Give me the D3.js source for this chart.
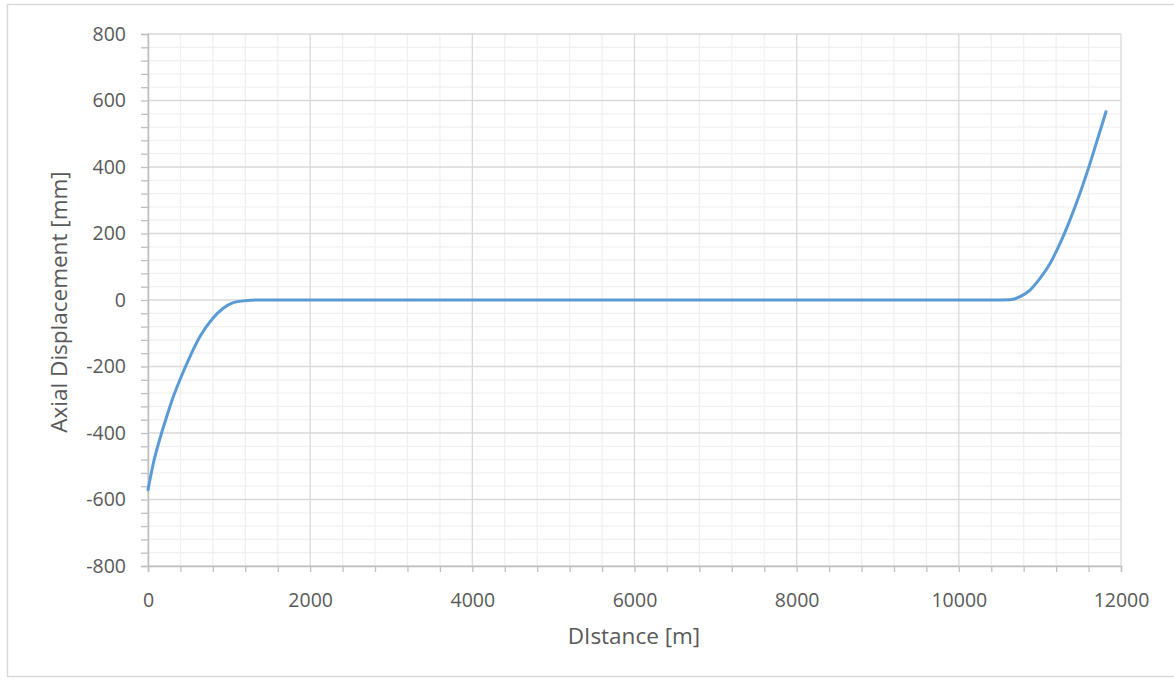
<!DOCTYPE html>
<html><head><meta charset="utf-8">
<script src="https://cdn.jsdelivr.net/npm/d3@7"></script>
<style>body{margin:0;background:#fff;}svg{display:block;font-family:"Open Sans",Lato,sans-serif;}</style>
</head><body>
<svg id="c" width="1174" height="681"></svg>
<script>
const distance = [0,66,148,230,312,400,518,641,800,928,1051,1200,1350,2000,4000,6000,8000,10000,10385,10632,10755,10878,11001,11125,11248,11371,11494,11618,11720,11815];
const displacement = [-571,-491,-416,-351,-291,-236,-170,-110,-55,-25,-8,-2,0,0,0,0,0,0,0,1,10,30,65,110,170,241,321,411,491,566];
const xTicks = [0,2000,4000,6000,8000,10000,12000];
const yTicks = [-800,-600,-400,-200,0,200,400,600,800];

const svg = d3.select("#c");
const m = {l:148, r:1121, t:34, b:566};
const x = d3.scaleLinear().domain([0,12000]).range([m.l,m.r]);
const y = d3.scaleLinear().domain([-800,800]).range([m.b,m.t]);

svg.append("rect").attr("x",7.5).attr("y",4.5).attr("width",1170).attr("height",672)
  .attr("fill","#fff").attr("stroke","#d9d9d9").attr("stroke-width",1.5);

const g = svg.append("g");
d3.range(0,12001,400).filter(v=>v%2000!==0).forEach(v=>{
  g.append("line").attr("x1",x(v)).attr("x2",x(v)).attr("y1",m.t).attr("y2",m.b).attr("stroke","#f0f0f0").attr("stroke-width",1.3);
});
d3.range(-800,801,40).filter(v=>v%200!==0).forEach(v=>{
  g.append("line").attr("x1",m.l).attr("x2",m.r).attr("y1",y(v)).attr("y2",y(v)).attr("stroke","#f0f0f0").attr("stroke-width",1.3);
});
xTicks.forEach(v=>{
  g.append("line").attr("x1",x(v)).attr("x2",x(v)).attr("y1",m.t).attr("y2",m.b).attr("stroke","#d9d9d9").attr("stroke-width",1.3);
});
yTicks.forEach(v=>{
  g.append("line").attr("x1",m.l).attr("x2",m.r).attr("y1",y(v)).attr("y2",y(v)).attr("stroke","#d9d9d9").attr("stroke-width",1.3);
});

const xAxis = d3.axisBottom(x).tickValues(d3.range(0,12001,400)).tickSize(6).tickFormat(d=>xTicks.includes(d)?d:"");
const gx = svg.append("g").attr("transform",`translate(0,${m.b})`).call(xAxis);
gx.select(".domain").attr("stroke","#bfbfbf").attr("stroke-width",1.5);
gx.selectAll(".tick line").attr("stroke","#bfbfbf").attr("stroke-width",1.3);
gx.selectAll(".tick text").attr("fill","#595959").attr("font-size",19.5).attr("font-family","Open Sans").attr("y",27).attr("dy","0.71em");

const yAxis = d3.axisLeft(y).tickValues(d3.range(-800,801,40)).tickSize(7).tickFormat(d=>yTicks.includes(d)?d:"");
const gy = svg.append("g").attr("transform",`translate(${m.l},0)`).call(yAxis);
gy.select(".domain").attr("stroke","#bfbfbf").attr("stroke-width",1.5);
gy.selectAll(".tick line").attr("stroke","#bfbfbf").attr("stroke-width",1.3);
gy.selectAll(".tick text").attr("fill","#595959").attr("font-size",19.5).attr("font-family","Open Sans").attr("x",-22);

const line = d3.line().x((d,i)=>x(distance[i])).y((d,i)=>y(displacement[i])).curve(d3.curveMonotoneX);
svg.append("path").datum(displacement).attr("d",line).attr("fill","none")
  .attr("stroke","#5b9bd5").attr("stroke-width",3).attr("stroke-linecap","round").attr("stroke-linejoin","round");

svg.append("text").attr("x",634).attr("y",644).attr("text-anchor","middle").attr("fill","#595959").attr("font-size",22.5).text("DIstance [m]");
svg.append("text").attr("transform","translate(67,302) rotate(-90)").attr("text-anchor","middle").attr("fill","#595959").attr("font-size",22.5).text("Axial Displacement [mm]");
</script>
</body></html>
